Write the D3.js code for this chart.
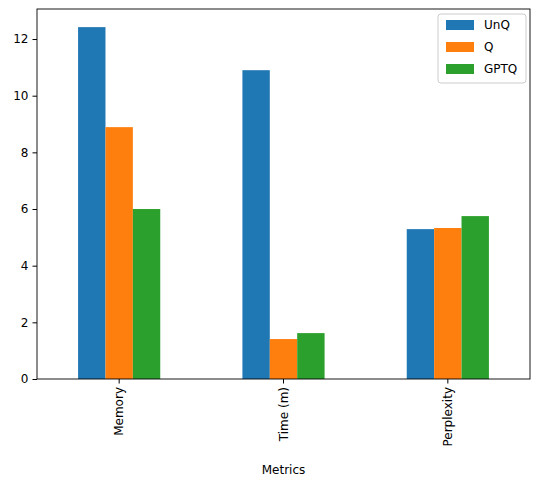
<!DOCTYPE html>
<html><head><meta charset="utf-8">
<script src="https://cdn.jsdelivr.net/npm/d3@7"></script>
<style>body{margin:0;background:#fff}text{font-family:"DejaVu Sans",sans-serif}</style>
</head><body><svg id="chart" width="543" height="487"></svg>
<script>
const categories = ['Memory', 'Time (m)', 'Perplexity']
const seriesNames = ['UnQ', 'Q', 'GPTQ']
const unq = [12.42, 10.9, 5.29]
const q = [8.89, 1.41, 5.33]
const gptq = [6.0, 1.62, 5.75]
const yTicks = [0, 2, 4, 6, 8, 10, 12]
const colours = ['#1f77b4', '#ff7f0e', '#2ca02c']

const margin = {top: 9, right: 13, bottom: 108, left: 37}
const width = 543, height = 487
const svg = d3.select('#chart')

const x = d3.scaleBand().domain(categories).range([margin.left, width - margin.right]).padding(0)
const y = d3.scaleLinear().domain([0, 13.06]).range([height - margin.bottom, margin.top])
const sub = d3.scaleBand().domain(seriesNames).range([-x.bandwidth() / 4, x.bandwidth() / 4])

const series = [unq, q, gptq]
series.forEach((vals, s) => {
    svg.append('g').selectAll('rect')
        .data(vals)
        .join('rect')
        .attr('x', (d, i) => x(categories[i]) + x.bandwidth() / 2 + sub(seriesNames[s]))
        .attr('y', d => y(d))
        .attr('width', sub.bandwidth())
        .attr('height', d => y(0) - y(d))
        .attr('fill', colours[s])
})

const yAxis = svg.append('g')
    .attr('transform', `translate(${margin.left},0)`)
    .call(d3.axisLeft(y).tickValues(yTicks).tickSize(4.5).tickPadding(4))
const xAxis = svg.append('g')
    .attr('transform', `translate(0,${height - margin.bottom})`)
    .call(d3.axisBottom(x).tickSize(4.5).tickPadding(4))
xAxis.selectAll('text')
    .attr('transform', 'rotate(-90)')
    .attr('text-anchor', 'end')
    .attr('x', -8).attr('y', 0).attr('dy', '0.35em')
for (const a of [xAxis, yAxis]) {
    a.selectAll('text').style('font-size', '12px').attr('fill', '#000')
    a.select('.domain').remove()
    a.selectAll('line').attr('stroke', '#000')
}
svg.append('rect')
    .attr('x', margin.left).attr('y', margin.top)
    .attr('width', width - margin.left - margin.right)
    .attr('height', height - margin.top - margin.bottom)
    .attr('fill', 'none').attr('stroke', '#000').attr('stroke-width', 0.9)

svg.append('text')
    .attr('x', (margin.left + width - margin.right) / 2).attr('y', 474)
    .attr('text-anchor', 'middle').style('font-size', '12px').text('Metrics')

const legend = svg.append('g').attr('transform', 'translate(438,14)')
legend.append('rect').attr('width', 88).attr('height', 69).attr('rx', 3)
    .attr('fill', '#fff').attr('stroke', '#ccc')
seriesNames.forEach((n, i) => {
    legend.append('rect').attr('x', 8).attr('y', 6 + i * 22).attr('width', 28).attr('height', 10).attr('fill', colours[i])
    legend.append('text').attr('x', 46).attr('y', 11 + i * 22).attr('dy', '0.35em')
        .style('font-size', '12px').text(n)
})
</script></body></html>
